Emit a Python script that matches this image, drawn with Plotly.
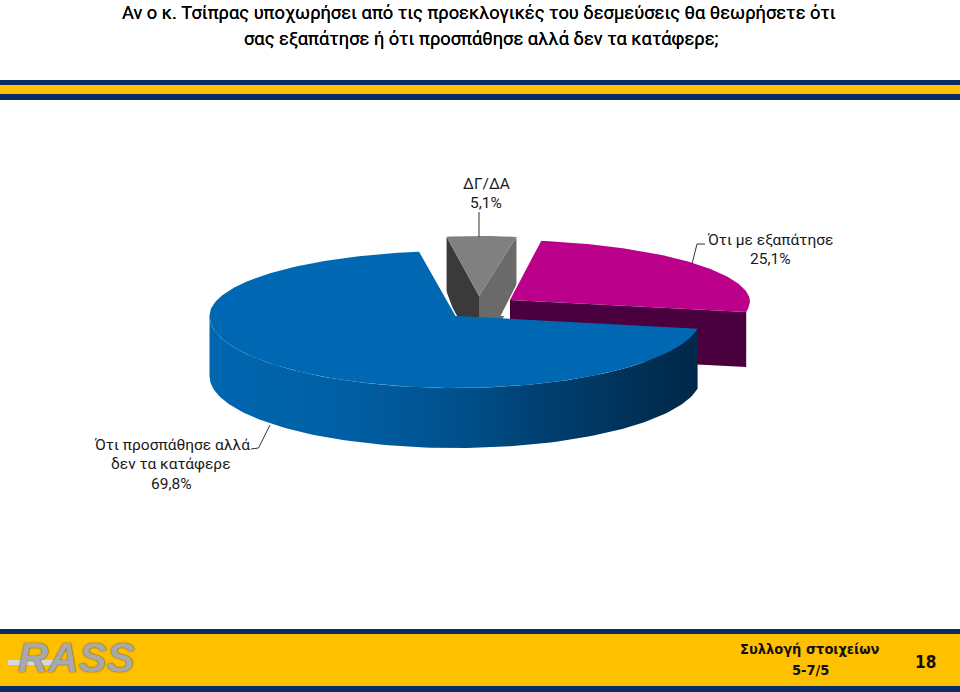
import numpy as np
import plotly.graph_objects as go

# ---- data ----
categories = ["Ότι προσπάθησε αλλά δεν τα κατάφερε", "Ότι με εξαπάτησε", "ΔΓ/ΔΑ"]
values = [69.8, 25.1, 5.1]
percent_labels = ["69,8%", "25,1%", "5,1%"]
title_lines = ["Αν ο κ. Τσίπρας υποχωρήσει από τις προεκλογικές του δεσμεύσεις θα θεωρήσετε ότι",
               "σας εξαπάτησε ή ότι προσπάθησε αλλά δεν τα κατάφερε;"]

# ---- style / layout ----
W, H = 960, 692
START = 100.2
DEPTH = 60
NAVY, GOLD = "#0b2a66", "#ffc000"
LABEL_FONT = "Roboto"
geom = {
    0: dict(cx=455.5, cy=316, rx=246, back=65, front=72, skew=0),
    1: dict(cx=510, cy=300, rx=240, back=60, front=68, skew=10),
    2: dict(cx=479, cy=296, rx=219, back=60, front=60, skew=0),
}

a0 = START
a1 = a0 + values[0] * 3.6   # blue end
a2 = a1 + values[2] * 3.6   # grey end
a3 = a2 + values[1] * 3.6   # magenta end


def rim(g, deg):
    r = np.radians(np.asarray(deg, dtype=float))
    c, s = np.cos(r), np.sin(r)
    x = g["cx"] + g["rx"] * s - g["skew"] * np.clip(c, 0, None)
    y = g["cy"] - np.where(c > 0, g["back"], g["front"]) * c
    return x, y


fig = go.Figure()


def poly(x, y, color=None, grad=None):
    kw = dict(fillcolor=color) if grad is None else dict(fillgradient=grad)
    fig.add_trace(go.Scatter(x=list(x), y=list(y), mode="lines", fill="toself",
                             line=dict(width=0), hoverinfo="skip", showlegend=False, **kw))


def leader(x, y):
    fig.add_trace(go.Scatter(x=x, y=y, mode="lines", line=dict(color="#333333", width=1),
                             hoverinfo="skip", showlegend=False))


# grey slice
g = geom[2]
lx, ly = rim(g, a1)
rx_, ry_ = rim(g, a2)
ax, ay = g["cx"], g["cy"]
poly([lx, ax, ax, lx], [ly, ay, ay + DEPTH, ly + DEPTH], "#3a3a3a")
poly([rx_, ax, ax, rx_], [ry_, ay, ay + DEPTH, ry_ + DEPTH], "#6a6a6a")
arc = np.linspace(a1, a2, 20)
px, py = rim(g, arc)
poly([ax, *px], [ay, *py], "#808080")

# magenta slice
g = geom[1]
ax, ay = g["cx"], g["cy"]
tx, ty = rim(g, a2)
cx_, cy_ = rim(g, a3)
ext = 16
dx = (ax - tx) / (ay - ty)
poly([tx - 3, ax + dx * ext - 1, ax, tx], [ty, ay + ext, ay + ext, ty], "#ffffff")
poly([ax, cx_, cx_, ax], [ay, cy_, cy_ + DEPTH - 5, ay + DEPTH - 5], "#4a003f")
arc = np.linspace(a2, a3, 80)
px, py = rim(g, arc)
poly([ax, *px], [ay, *py], "#bb008b")

# blue slice
g = geom[0]
ax, ay = g["cx"], g["cy"]
ex, ey = rim(g, a1)
poly([ax, ex, ex + 13], [ay, ey, ey], "#ffffff")
wall = np.linspace(a0, 270, 120)
wx, wy = rim(g, wall)
poly([*wx, *wx[::-1]], [*wy, *(wy[::-1] + DEPTH)],
     grad=dict(type="horizontal", start=209, stop=700,
               colorscale=[[0, "#0067b0"], [0.25, "#0060a6"], [0.49, "#00528f"],
                           [0.72, "#003c6b"], [0.95, "#002b4d"], [1, "#00284a"]]))
arc = np.linspace(a0, a1, 200)
px, py = rim(g, arc)
poly([ax, *px], [ay, *py], "#0068b3")

# leader lines
leader([479, 479], [212, 237])
leader([692, 697, 705], [264, 244, 244])
leader([270, 258.5, 251], [425, 448, 449])

# bands
rects = [(0, 80, W, 85, NAVY), (0, 85, W, 94, GOLD), (0, 94, W, 100, NAVY),
         (0, 629, W, 634, NAVY), (0, 634, W, 686, GOLD), (0, 686, W, 692, NAVY)]
shapes = [dict(type="rect", layer="below", x0=a, y0=b, x1=c, y1=d, fillcolor=col,
               line=dict(width=0)) for a, b, c, d, col in rects]
shapes.append(dict(type="rect", layer="above", x0=8, x1=62, y0=660, y1=665,
                   fillcolor="#d9d9d9", line=dict(width=0)))


def note(text, x, y, size, family, color="#1a1a1a", bold=False, **kw):
    return dict(text=f"<b>{text}</b>" if bold else text, x=x, y=y, xref="x", yref="y",
                showarrow=False, xanchor="center", yanchor="middle",
                font=dict(size=size, family=family, color=color, **kw))


TITLE_FONT = "Roboto"
FOOT_FONT = "DejaVu Sans Condensed, DejaVu Sans"
ann = [
    note(title_lines[0], 479, 12, 18.3, TITLE_FONT, color="#000000", shadow="0px 0px 0.6px #000000"),
    note(title_lines[1], 481, 38, 18.3, TITLE_FONT, color="#000000", shadow="0px 0px 0.6px #000000"),
    note(categories[2], 486, 184, 15.5, LABEL_FONT),
    note(percent_labels[2], 486, 203, 15.5, LABEL_FONT),
    note(categories[1], 770, 240, 15.5, LABEL_FONT),
    note(percent_labels[1], 770, 259, 15.5, LABEL_FONT),
    note("Ότι προσπάθησε αλλά", 172, 445, 15.5, LABEL_FONT),
    note("δεν τα κατάφερε", 171, 464, 15.5, LABEL_FONT),
    note(percent_labels[0], 171, 484, 15.5, LABEL_FONT),
    note("<i>RASS</i>", 76, 657, 42, "Liberation Sans", color="#a9a9a9", bold=True,
         shadow="0px 0px 1.5px #333333"),
    note("Συλλογή στοιχείων", 810, 649, 14.5, FOOT_FONT, color="#111111", bold=True),
    note("5-7/5", 810, 670, 14.5, FOOT_FONT, color="#111111", bold=True),
    note("18", 925, 662, 17, FOOT_FONT, color="#111111", bold=True),
]

fig.update_layout(
    width=W, height=H, margin=dict(l=0, r=0, t=0, b=0), autosize=False,
    paper_bgcolor="#ffffff", plot_bgcolor="#ffffff", showlegend=False,
    xaxis=dict(range=[0, W], visible=False, fixedrange=True),
    yaxis=dict(range=[H, 0], visible=False, fixedrange=True),
    shapes=shapes, annotations=ann,
)
fig.write_html("out.html", config=dict(displayModeBar=False),
               post_script="document.body.style.margin='0';document.body.style.overflow='hidden';")
